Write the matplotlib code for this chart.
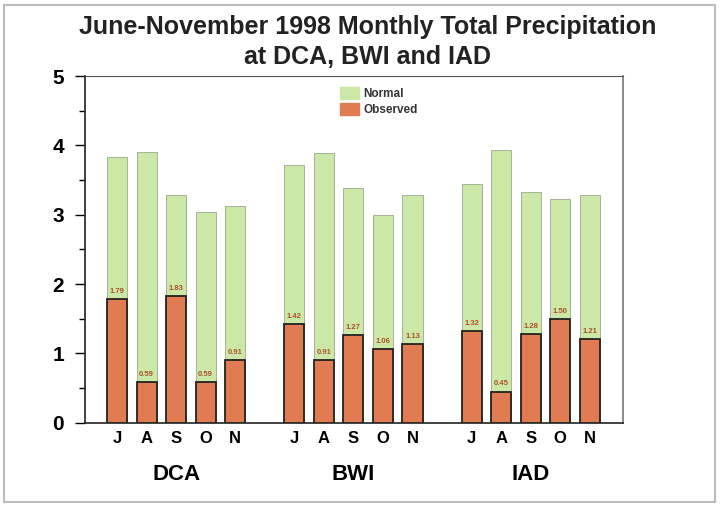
import numpy as np
import matplotlib
matplotlib.use('Agg')
import matplotlib.pyplot as plt
from matplotlib.patches import Rectangle

plt.rcParams.update({'font.family': ['Liberation Sans', 'DejaVu Sans']})

# ── Data ──
stations = ['DCA', 'BWI', 'IAD']
months = ['J', 'A', 'S', 'O', 'N']
normal_dca = [3.84, 3.91, 3.29, 3.04, 3.13]
normal_bwi = [3.72, 3.89, 3.38, 2.99, 3.29]
normal_iad = [3.45, 3.94, 3.33, 3.23, 3.29]
observed_dca = [1.79, 0.59, 1.83, 0.59, 0.91]
observed_bwi = [1.42, 0.91, 1.27, 1.06, 1.13]
observed_iad = [1.32, 0.45, 1.28, 1.50, 1.21]

normal = [normal_dca, normal_bwi, normal_iad]
observed = [observed_dca, observed_bwi, observed_iad]

c_normal = '#cbe8a6'
c_obs = '#e07b52'

fig = plt.figure(figsize=(7.21, 5.07), dpi=100)
ax = fig.add_axes([0.118, 0.166, 0.746, 0.684])

width = 0.68
for g, st in enumerate(stations):
    x = np.arange(len(months)) + g * 6
    ax.bar(x, normal[g], width, color=c_normal, edgecolor='#9aaa90', linewidth=0.6, zorder=2)
    ax.bar(x, observed[g], width, color=c_obs, edgecolor='#222222', linewidth=1.3, zorder=3)
    for xi, v in zip(x, observed[g]):
        ax.text(xi, v + 0.06, f'{v:.2f}', ha='center', va='bottom', fontsize=5.5,
                fontweight='bold', color='#b0502a', zorder=4)
    for xi, m in zip(x, months):
        ax.text(xi, -0.12, m, ha='center', va='top', fontsize=12, fontweight='bold',
                clip_on=False)
    ax.text(x[2], -0.74, st, ha='center', va='center', fontsize=16, fontweight='bold',
            clip_on=False)

ax.set_xlim(-1.08, 17.12)
ax.set_ylim(0, 5)
ax.set_xticks([])
ax.set_yticks(range(6))
ax.set_yticks(np.arange(0.5, 5, 1), minor=True)
ax.tick_params(axis='y', which='major', length=7, width=1, labelsize=15, pad=8)
ax.tick_params(axis='y', which='minor', length=4, width=1)
for lbl in ax.get_yticklabels():
    lbl.set_fontweight('bold')
ax.spines['left'].set_color('#222222')
ax.spines['bottom'].set_color('#222222')
ax.spines['left'].set_linewidth(1.2)
ax.spines['bottom'].set_linewidth(1.2)
ax.spines['top'].set_color('#555555')
ax.spines['right'].set_color('#777777')
ax.spines['right'].set_linewidth(1.2)

leg_handles = [Rectangle((0, 0), 1, 1, color=c_normal), Rectangle((0, 0), 1, 1, color=c_obs)]
leg = ax.legend(leg_handles, ['Normal', 'Observed'], loc='upper left',
                bbox_to_anchor=(0.454, 1.0), frameon=False, fontsize=8.5,
                handlelength=1.6, handleheight=1.2, labelspacing=0.25, handletextpad=0.4)
for t in leg.get_texts():
    t.set_fontweight('bold')
    t.set_color('#333333')

fig.text(0.510, 0.917, 'June-November 1998 Monthly Total Precipitation\nat DCA, BWI and IAD',
         ha='center', va='center', fontsize=18, fontweight='bold', color='#222222',
         linespacing=1.3)

fig.patches.append(Rectangle((0.006, 0.01), 0.985, 0.98, transform=fig.transFigure,
                             fill=False, edgecolor='#bbbbbb', linewidth=1.5))

fig.savefig('out.png', dpi=100)
